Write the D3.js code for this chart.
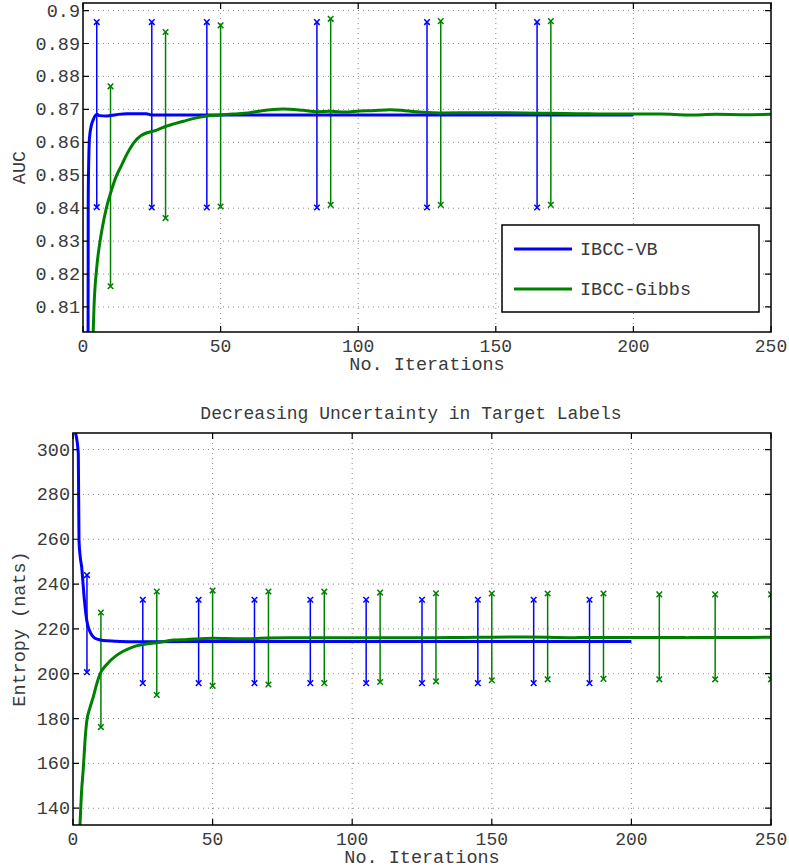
<!DOCTYPE html>
<html>
<head>
<meta charset="utf-8">
<script src="https://cdn.jsdelivr.net/npm/d3@7"></script>
<style>
  body { margin: 0; background: #fff; }
  svg text { font-family: "Liberation Mono", "DejaVu Sans Mono", monospace; fill: #3a3a3a; }
</style>
</head>
<body>
<script>
// ---- data ----
// AUC curves (top panel)
var aucVbIter  = [1.85, 1.9, 2.1, 2.3, 2.5, 3, 3.7, 5, 6, 8.6, 12, 15.9, 23, 25, 30, 50, 100, 150, 200];
var aucVbVal   = [0.802, 0.8425, 0.855, 0.8605, 0.8625, 0.865, 0.8668, 0.8685, 0.8681, 0.868, 0.8684, 0.8687, 0.8687, 0.8683, 0.8683, 0.8683, 0.8683, 0.8683, 0.8683];
var aucGibIter = [3.7, 4, 5, 6.2, 7, 8.6, 10, 12, 14, 16, 18.3, 21, 26.8, 30, 36.5, 40, 45, 50, 54.6, 60, 65, 72.7, 80, 85, 90, 95, 100.6, 105, 111.6, 117, 123.6, 130, 146, 160, 169.7, 180, 190, 200, 210, 220, 230, 240, 250];
var aucGibVal  = [0.8024, 0.81, 0.822, 0.83, 0.834, 0.8404, 0.8445, 0.8495, 0.853, 0.8565, 0.8597, 0.862, 0.8637, 0.8648, 0.8664, 0.8672, 0.868, 0.8683, 0.8686, 0.8689, 0.8696, 0.8701, 0.8697, 0.8693, 0.8694, 0.8692, 0.8695, 0.8696, 0.8699, 0.8696, 0.8691, 0.8689, 0.869, 0.8689, 0.8688, 0.8687, 0.8686, 0.8686, 0.8686, 0.8683, 0.8685, 0.8684, 0.8685];

// AUC error bars
var aucVbBarIter  = [5, 25, 45, 85, 125, 165];
var aucVbBarHi    = [0.8965, 0.8965, 0.8965, 0.8965, 0.8965, 0.8965];
var aucVbBarLo    = [0.8403, 0.8402, 0.8402, 0.8402, 0.8402, 0.8402];
var aucGibBarIter = [10, 30, 50, 90, 130, 170];
var aucGibBarHi   = [0.877, 0.8935, 0.8955, 0.8975, 0.8968, 0.8968];
var aucGibBarLo   = [0.8163, 0.837, 0.8405, 0.841, 0.841, 0.841];

// Entropy curves (bottom panel)
var entVbIter  = [0.9, 1.9, 2.15, 2.6, 3.1, 4, 4.9, 6, 7.3, 9, 10.8, 15, 20, 30, 50, 100, 150, 200];
var entVbVal   = [307.4, 298.3, 259.5, 252, 247.6, 234, 224, 219, 216.4, 215.3, 214.8, 214.5, 214.3, 214.3, 214.4, 214.4, 214.4, 214.4];
var entGibIter = [2.5, 3, 3.7, 4.3, 4.9, 6, 7.3, 8.5, 9.7, 12, 15.7, 18, 21.6, 27.6, 30, 36, 40, 50.3, 60, 70, 80, 90, 100, 110, 120, 130, 140, 150, 160, 170, 180, 190, 200, 210, 220, 230, 240, 250];
var entGibVal  = [132.5, 146, 158, 170, 178.5, 184.5, 189.8, 195.5, 200, 204, 208.3, 210, 212, 213.5, 213.8, 215, 215.2, 215.8, 215.6, 215.9, 216, 216, 216.1, 216.1, 216, 216.1, 216.2, 216.3, 216.4, 216.3, 216.1, 216.2, 216.2, 216.2, 216.1, 216.2, 216.2, 216.3];

// Entropy error bars
var entVbBarIter  = [5, 25, 45, 65, 85, 105, 125, 145, 165, 185];
var entVbBarHi    = [244, 233, 233, 233, 233, 233, 233, 233, 233, 233];
var entVbBarLo    = [200.7, 195.8, 195.8, 195.8, 195.8, 195.8, 195.8, 195.8, 195.8, 195.8];
var entGibBarIter = [10, 30, 50, 70, 90, 110, 130, 150, 170, 190, 210, 230, 250];
var entGibBarHi   = [227.3, 236.7, 237.1, 236.7, 236.6, 236.2, 235.9, 235.8, 235.8, 235.8, 235.4, 235.4, 235.4];
var entGibBarLo   = [176.2, 190.5, 194.6, 195.2, 195.8, 196.3, 196.6, 197.1, 197.5, 197.7, 197.5, 197.5, 197.5];

var xTicks = [0, 50, 100, 150, 200, 250];
var aucTicks = [0.81, 0.82, 0.83, 0.84, 0.85, 0.86, 0.87, 0.88, 0.89, 0.9];
var entTicks = [140, 160, 180, 200, 220, 240, 260, 280, 300];
var seriesNames = ["IBCC-VB", "IBCC-Gibbs"];

var BLUE = "#0000ff", GREEN = "#008000";

var svg = d3.select("body").append("svg")
    .attr("width", 789)
    .attr("height", 867);

function zip(a, b) { return a.map(function(d, i) { return [d, b[i]]; }); }

// draws one matlab-style panel
function panel(opt) {
    var x = d3.scaleLinear().domain([0, 250]).range([opt.left, opt.right]);
    var y = d3.scaleLinear().domain(opt.ydom).range([opt.bottom, opt.top]);
    var g = svg.append("g");

    var clipId = "clip" + opt.id;
    g.append("clipPath").attr("id", clipId).append("rect")
        .attr("x", opt.left).attr("y", opt.top)
        .attr("width", opt.right - opt.left).attr("height", opt.bottom - opt.top);

    // dotted grid
    g.selectAll(".vgrid").data(xTicks.slice(1, -1)).enter().append("line")
        .attr("x1", x).attr("x2", x).attr("y1", opt.top).attr("y2", opt.bottom)
        .attr("stroke", "#888").attr("stroke-width", 1).attr("stroke-dasharray", "1,4");
    g.selectAll(".hgrid").data(opt.yticks).enter().append("line")
        .attr("x1", opt.left).attr("x2", opt.right).attr("y1", y).attr("y2", y)
        .attr("stroke", "#888").attr("stroke-width", 1).attr("stroke-dasharray", "1,4");

    var plot = g.append("g").attr("clip-path", "url(#" + clipId + ")");

    var line = d3.line()
        .x(function(d) { return x(d[0]); })
        .y(function(d) { return y(d[1]); })
        .curve(d3.curveMonotoneX);

    // error bars
    function bars(iters, hi, lo, color) {
        var data = iters.map(function(d, i) { return { it: d, hi: hi[i], lo: lo[i] }; });
        plot.selectAll(null).data(data).enter().append("line")
            .attr("x1", function(d) { return x(d.it); }).attr("x2", function(d) { return x(d.it); })
            .attr("y1", function(d) { return y(d.hi); }).attr("y2", function(d) { return y(d.lo); })
            .attr("stroke", color).attr("stroke-width", 1.5);
        var marks = [];
        data.forEach(function(d) { marks.push([d.it, d.hi]); marks.push([d.it, d.lo]); });
        plot.selectAll(null).data(marks).enter().append("path")
            .attr("d", function(d) {
                var cx = x(d[0]), cy = y(d[1]), s = 2.8;
                return "M" + (cx - s) + "," + (cy - s) + "L" + (cx + s) + "," + (cy + s) +
                       "M" + (cx - s) + "," + (cy + s) + "L" + (cx + s) + "," + (cy - s);
            })
            .attr("stroke", color).attr("stroke-width", 1.5).attr("fill", "none");
    }
    bars(opt.vbBar[0], opt.vbBar[1], opt.vbBar[2], BLUE);
    bars(opt.gibBar[0], opt.gibBar[1], opt.gibBar[2], GREEN);

    plot.append("path").datum(zip(opt.vb[0], opt.vb[1]))
        .attr("d", line).attr("fill", "none").attr("stroke", BLUE).attr("stroke-width", 3);
    plot.append("path").datum(zip(opt.gib[0], opt.gib[1]))
        .attr("d", line).attr("fill", "none").attr("stroke", GREEN).attr("stroke-width", 3);

    // box
    g.append("rect")
        .attr("x", opt.left).attr("y", opt.top)
        .attr("width", opt.right - opt.left).attr("height", opt.bottom - opt.top)
        .attr("fill", "none").attr("stroke", "#000").attr("stroke-width", 1.5);

    // inward ticks on all four sides
    var tl = 6;
    g.selectAll(".xt").data(xTicks).enter().append("path")
        .attr("d", function(d) {
            return "M" + x(d) + "," + opt.bottom + "v" + (-tl) + "M" + x(d) + "," + opt.top + "v" + tl;
        })
        .attr("stroke", "#000").attr("stroke-width", 1.2);
    g.selectAll(".yt").data(opt.yticks).enter().append("path")
        .attr("d", function(d) {
            return "M" + opt.left + "," + y(d) + "h" + tl + "M" + opt.right + "," + y(d) + "h" + (-tl);
        })
        .attr("stroke", "#000").attr("stroke-width", 1.2);

    // tick labels
    g.selectAll(".xl").data(xTicks).enter().append("text")
        .attr("x", x).attr("y", opt.bottom + 20)
        .attr("text-anchor", "middle").style("font-size", "18px")
        .text(function(d) { return d; });
    g.selectAll(".yl").data(opt.yticks).enter().append("text")
        .attr("x", opt.left - 3).attr("y", function(d) { return y(d) + 6; })
        .attr("text-anchor", "end").style("font-size", "18.5px")
        .text(opt.fmt);

    // axis titles
    g.append("text")
        .attr("x", (opt.left + opt.right) / 2).attr("y", opt.bottom + 37.5)
        .attr("text-anchor", "middle").style("font-size", "18.5px")
        .text("No. Iterations");
    g.append("text")
        .attr("transform", "translate(25," + ((opt.top + opt.bottom) / 2) + ") rotate(-90)")
        .attr("text-anchor", "middle").style("font-size", "18.5px")
        .text(opt.ylabel);
    return { g: g, x: x, y: y };
}

var topPanel = panel({
    id: "a", left: 83, right: 771, top: 3, bottom: 332,
    ydom: [0.8024, 0.9023], yticks: aucTicks,
    fmt: function(d) { return String(+d.toFixed(2)); },
    ylabel: "AUC",
    vb: [aucVbIter, aucVbVal], gib: [aucGibIter, aucGibVal],
    vbBar: [aucVbBarIter, aucVbBarHi, aucVbBarLo],
    gibBar: [aucGibBarIter, aucGibBarHi, aucGibBarLo]
});

var bottomPanel = panel({
    id: "b", left: 73, right: 771, top: 433, bottom: 825,
    ydom: [132.5, 307.4], yticks: entTicks,
    fmt: function(d) { return d; },
    ylabel: "Entropy (nats)",
    vb: [entVbIter, entVbVal], gib: [entGibIter, entGibVal],
    vbBar: [entVbBarIter, entVbBarHi, entVbBarLo],
    gibBar: [entGibBarIter, entGibBarHi, entGibBarLo]
});

svg.append("text")
    .attr("x", 411).attr("y", 419)
    .attr("text-anchor", "middle").style("font-size", "18px")
    .text("Decreasing Uncertainty in Target Labels");

// legend (top panel)
var legend = svg.append("g");
legend.append("rect")
    .attr("x", 502).attr("y", 225).attr("width", 257).attr("height", 87)
    .attr("fill", "#fff").attr("stroke", "#000").attr("stroke-width", 1.5);
var legItems = legend.selectAll(".li").data(seriesNames).enter().append("g")
    .attr("transform", function(d, i) { return "translate(0," + (249 + i * 40) + ")"; });
legItems.append("line")
    .attr("x1", 514).attr("x2", 572).attr("y1", 0).attr("y2", 0)
    .attr("stroke", function(d, i) { return i === 0 ? BLUE : GREEN; })
    .attr("stroke-width", 3);
legItems.append("text")
    .attr("x", 580).attr("y", 6).style("font-size", "18.5px")
    .text(function(d) { return d; });
</script>
</body>
</html>
